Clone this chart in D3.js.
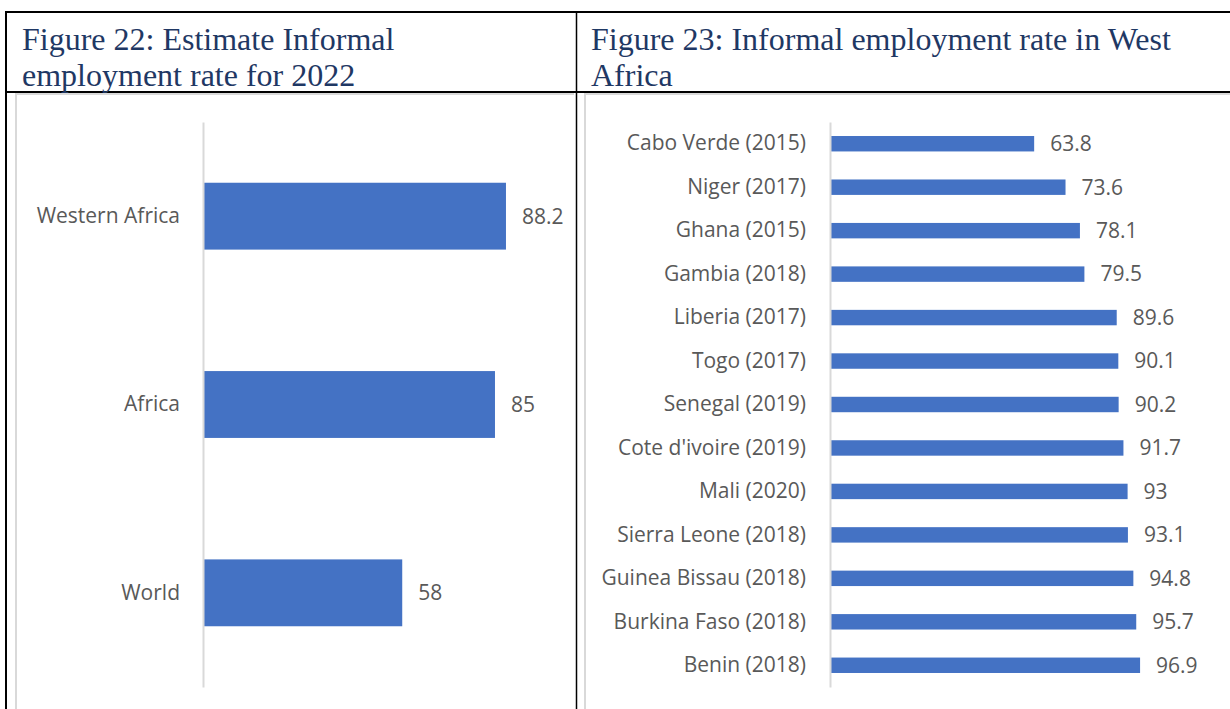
<!DOCTYPE html>
<html>
<head>
<meta charset="utf-8">
<script src="https://cdn.jsdelivr.net/npm/d3@7"></script>
<style>
  body { margin: 0; background: #fff; }
  svg { display: block; }
  .title { font-family: "Liberation Serif", "Times New Roman", serif; font-size: 32px; fill: #1f3864; }
  .lbl { font-family: "Open Sans", sans-serif; font-size: 21px; fill: #595959; }
</style>
</head>
<body>
<svg id="chart" width="1230" height="709"></svg>
<script>
// Figure 22 data
const regions = ["Western Africa", "Africa", "World"];
const regionRates = [88.2, 85, 58];

// Figure 23 data
const countries = ["Cabo Verde (2015)", "Niger (2017)", "Ghana (2015)", "Gambia (2018)",
  "Liberia (2017)", "Togo (2017)", "Senegal (2019)", "Cote d'ivoire (2019)", "Mali (2020)",
  "Sierra Leone (2018)", "Guinea Bissau (2018)", "Burkina Faso (2018)", "Benin (2018)"];
const countryRates = [63.8, 73.6, 78.1, 79.5, 89.6, 90.1, 90.2, 91.7, 93, 93.1, 94.8, 95.7, 96.9];

const svg = d3.select("#chart");
const barColor = "#4472c4";
const gridGray = "#d9d9d9";

// table frame
const frame = svg.append("g").attr("stroke", "#000").attr("fill", "none");
frame.append("line").attr("x1", 5).attr("x2", 1230).attr("y1", 12).attr("y2", 12).attr("stroke-width", 2);
frame.append("line").attr("x1", 6).attr("x2", 6).attr("y1", 11).attr("y2", 709).attr("stroke-width", 2);
frame.append("line").attr("x1", 5).attr("x2", 1230).attr("y1", 92).attr("y2", 92).attr("stroke-width", 2);
frame.append("line").attr("x1", 576.5).attr("x2", 576.5).attr("y1", 11).attr("y2", 709).attr("stroke-width", 1.5);

// light chart-area frames
svg.append("path").attr("d", "M16,709V94H574").attr("fill", "none").attr("stroke", gridGray).attr("stroke-width", 2);
svg.append("path").attr("d", "M585,709V94H1230").attr("fill", "none").attr("stroke", gridGray).attr("stroke-width", 2);

// titles
function title(x, lines) {
  const t = svg.append("text").attr("class", "title");
  lines.forEach((s, i) => t.append("tspan").attr("x", x).attr("y", 50 + i * 36).text(s));
}
title(22, ["Figure 22: Estimate Informal", "employment rate for 2022"]);
title(591, ["Figure 23: Informal employment rate in West", "Africa"]);

function barChart(cats, vals, x0, pxPerUnit, pad) {
  const y = d3.scaleBand().domain(cats).range([122, 687]).paddingInner(0.645).paddingOuter(0.3225);
  const x = d3.scaleLinear().domain([0, 100]).range([x0, x0 + 100 * pxPerUnit]);
  const data = cats.map((c, i) => ({ c, v: vals[i] }));
  const g = svg.append("g");

  g.selectAll("rect").data(data).enter().append("rect")
    .attr("x", x(0))
    .attr("y", d => y(d.c))
    .attr("width", d => x(d.v) - x(0))
    .attr("height", y.bandwidth())
    .attr("fill", barColor);

  const ax = g.append("g")
    .attr("transform", `translate(${x0},0)`)
    .call(d3.axisLeft(y).tickSize(0).tickPadding(pad));
  ax.select(".domain").attr("stroke", gridGray).attr("stroke-width", 2);
  ax.selectAll("text").attr("class", "lbl").attr("font-size", null).attr("font-family", null).attr("fill", null);
  ax.attr("font-size", null).attr("font-family", null);

  g.selectAll(".val").data(data).enter().append("text")
    .attr("class", "lbl")
    .attr("x", d => x(d.v) + 16)
    .attr("y", d => y(d.c) + y.bandwidth() / 2)
    .attr("dy", "0.35em")
    .text(d => d.v);
}

barChart(regions, regionRates, 203, 3.435, 23);
barChart(countries, countryRates, 830, 3.2, 24);
</script>
</body>
</html>
